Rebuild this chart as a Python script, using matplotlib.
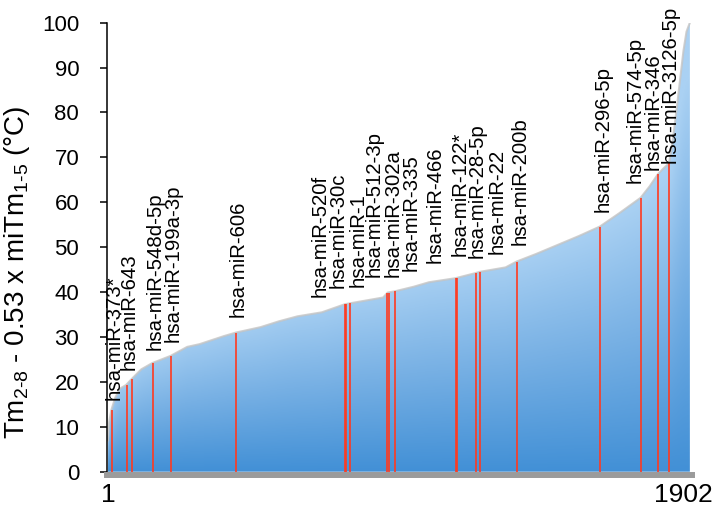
# Sorted Tm score curve for 1902 miRNAs with the highlighted miRNAs marked in red.

import numpy as np
import matplotlib.pyplot as plt
from matplotlib.colors import LinearSegmentedColormap

plt.rcParams['font.family'] = ['Liberation Sans', 'DejaVu Sans']
plt.rcParams['mathtext.fontset'] = 'custom'
plt.rcParams['mathtext.rm'] = 'Liberation Sans'
plt.rcParams['mathtext.it'] = 'Liberation Sans:italic'

# sorted curve (rank -> value)
curve_rank = [1, 5, 12, 25, 40, 60, 78, 110, 146, 206, 260, 300, 380, 420, 500, 560,
              620, 700, 775, 800, 900, 915, 940, 1000, 1050, 1137, 1200, 1215, 1300,
              1336, 1400, 1470, 1540, 1608, 1670, 1741, 1770, 1798, 1815, 1834, 1846,
              1862, 1881, 1891, 1902]
curve_value = [7, 11, 13.7, 16.5, 18.5, 19.3, 20.6, 22.8, 24.2, 25.8, 27.8, 28.4, 30.2,
               31.0, 32.2, 33.5, 34.6, 35.5, 37.3, 37.6, 38.8, 39.9, 40.2, 41.2, 42.2,
               43.1, 44.2, 44.5, 45.5, 46.8, 48.5, 50.5, 52.5, 54.6, 57.5, 61.0, 63.5,
               66.3, 67.5, 68.7, 73.7, 82.6, 93.7, 98, 100]

# red marker lines (rank, value)
mark_rank = [13, 62, 80, 147, 207, 419, 775, 780, 791, 914, 920, 939, 1138, 1141,
             1202, 1217, 1336, 1608, 1741, 1798, 1834]
mark_value = [13.7, 19.3, 20.6, 24.2, 25.8, 31.0, 37.3, 37.3, 37.6, 39.9, 39.9, 40.2,
              43.1, 43.1, 44.2, 44.5, 46.8, 54.6, 61.0, 66.3, 68.7]

mirna_labels = ['hsa-miR-373*', 'hsa-miR-643', 'hsa-miR-548d-5p', 'hsa-miR-199a-3p',
                'hsa-miR-606', 'hsa-miR-520f', 'hsa-miR-30c', 'hsa-miR-1',
                'hsa-miR-512-3p', 'hsa-miR-302a', 'hsa-miR-335', 'hsa-miR-466',
                'hsa-miR-122*', 'hsa-miR-28-5p', 'hsa-miR-22', 'hsa-miR-200b',
                'hsa-miR-296-5p', 'hsa-miR-574-5p', 'hsa-miR-346', 'hsa-miR-3126-5p']
# where each label sits (rank, value of its lower end)
label_x = [20, 70, 155, 213, 426, 693, 752, 818, 870, 932, 991, 1069, 1151, 1206,
           1271, 1347, 1618, 1722, 1781, 1837]
label_y = [16.0, 22.7, 27.1, 28.9, 34.5, 38.8, 40.9, 41.1, 43.4, 43.4, 44.7, 46.5,
           48.0, 47.6, 48.5, 50.5, 57.8, 64.3, 67.2, 68.7]

W, H = 722, 514
fig = plt.figure(figsize=(W / 100, H / 100), dpi=100)
ax = fig.add_axes([106.7 / W, (H - 471.7) / H, (691.7 - 106.7) / W, (471.7 - 22.7) / H])
ax.set_xlim(-3, 1908)
ax.set_ylim(0, 100)

# gradient fill, lighter towards the curve
xs = np.linspace(1, 1902, 600)
ys = np.linspace(0, 100, 400)
xx, yy = np.meshgrid(xs, ys)
top = np.interp(xx, curve_rank, curve_value)
t = np.clip(0.8 * yy / top + 0.2 * yy / 60, 0, 1)
cmap = LinearSegmentedColormap.from_list('area', ['#4290d6', '#77b0e4', '#aad1f3'])
poly = ax.fill_between(curve_rank, 0, curve_value, facecolor='none', edgecolor='none')
im = ax.imshow(t, extent=[1, 1902, 0, 100], origin='lower', aspect='auto',
               cmap=cmap, vmin=0, vmax=1, zorder=1, interpolation='bilinear')
im.set_clip_path(poly.get_paths()[0], transform=ax.transData)
ax.plot(curve_rank, curve_value, color='#c4c4c4', lw=1.5, alpha=0.8, zorder=2)

ax.vlines(mark_rank, 0, mark_value, color='#ff3a20', lw=1.2, zorder=3)

for lab, x, y in zip(mirna_labels, label_x, label_y):
  ax.text(x, y, lab, rotation=90, ha='center', va='bottom', fontsize=14.7,
          color='black', clip_on=False, zorder=4)

for side in ['top', 'right']:
  ax.spines[side].set_visible(False)
ax.spines['left'].set_linewidth(1.1)
ax.spines['bottom'].set_color('#9b9b9b')
ax.spines['bottom'].set_linewidth(4.3)
ax.spines['bottom'].set_position(('outward', 2.15))

ax.set_yticks(range(0, 101, 10))
ax.tick_params(axis='y', direction='out', length=4.8, width=1.1, pad=15, labelsize=16)
ax.set_xticks([1, 1882], ['1', '1902'])
ax.tick_params(axis='x', length=0, pad=6, labelsize=19)

fig.text(17 / W, 1 - 272 / H, r'Tm$_{2\text{-}8}$ - 0.53 x miTm$_{1\text{-}5}$ (°C)',
         rotation=90, ha='center', va='center', fontsize=20)

fig.savefig('out.png', dpi=100)
